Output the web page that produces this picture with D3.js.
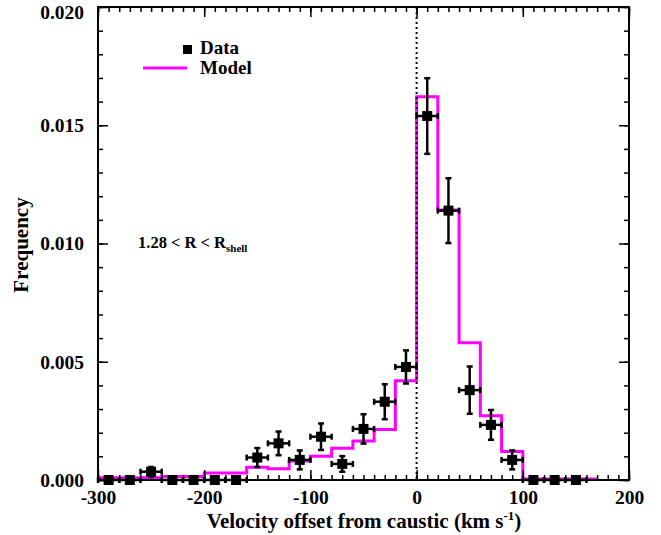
<!DOCTYPE html>
<html><head><meta charset="utf-8">
<script src="https://cdn.jsdelivr.net/npm/d3@7"></script>
<style>body{margin:0;background:#fff}svg{display:block}text{font-family:"Liberation Serif","Times New Roman",serif;font-weight:bold;fill:#000}</style>
</head><body>
<script>
// Model histogram (step): bin edges and values
const modelEdges = [-300,-280,-260,-240,-220,-200,-180,-160,-140,-120,-100,-80,-60,-40,-20,0,20,40,60,80,100,120,140,160,170];
const modelValues = [0.0001,0.0001,0.0001,0.00015,0.00015,0.0003,0.0003,0.00054,0.00048,0.0008,0.001,0.00134,0.00165,0.00214,0.0042,0.0162,0.01142,0.0058,0.00272,0.00121,0.00004,0.00004,0.00004,0.00004];
// Data points
const dataX = [-290,-270,-250,-230,-210,-190,-170,-150,-130,-110,-90,-70,-50,-30,-10,10,30,50,70,90,110,130,150];
const dataY = [0,0,0.00035,0,0,0,0,0.00095,0.00155,0.00085,0.00183,0.00068,0.00216,0.00331,0.00478,0.01539,0.01139,0.0038,0.00233,0.00085,0,0,0];
const dataErr = [0.00005,0.00005,0.0002,0.00005,0.00005,0.00005,0.00005,0.0004,0.0005,0.0004,0.00056,0.00033,0.00062,0.00074,0.0007,0.0016,0.00137,0.001,0.00063,0.0004,0.00005,0.00005,0.00005];
const binHalf = 10;
const xTicks = [-300,-200,-100,0,100,200];
const yTicks = [0,0.005,0.010,0.015,0.020];

const W=661,H=535;
const m={l:98,r:629,t:7,b:480};
const svg=d3.select("body").append("svg").attr("width",W).attr("height",H);
const x=d3.scaleLinear().domain([-300,200]).range([m.l,m.r]);
const y=d3.scaleLinear().domain([0,0.02]).range([m.b,m.t]);

// model step line
const stepPts=[];
modelValues.forEach((v,i)=>{stepPts.push([modelEdges[i],v]);stepPts.push([modelEdges[i+1],v]);});
svg.append("path").datum(stepPts)
  .attr("d",d3.line().x(d=>x(d[0])).y(d=>y(d[1])))
  .attr("fill","none").attr("stroke","#ff00ff").attr("stroke-width",3);

// dotted zero line
svg.append("line").attr("x1",x(0)).attr("x2",x(0)).attr("y1",m.t).attr("y2",m.b)
  .attr("stroke","#000").attr("stroke-width",2).attr("stroke-dasharray","2,3");

// data points
const g=svg.append("g");
dataX.forEach((dx,i)=>{
  const cx=x(dx), cy=y(dataY[i]);
  const y1=y(dataY[i]+dataErr[i]), y2=y(Math.max(0,dataY[i]-dataErr[i]));
  const x1=x(dx-binHalf), x2=x(dx+binHalf);
  g.append("line").attr("x1",x1).attr("x2",x2).attr("y1",cy).attr("y2",cy).attr("stroke","#000").attr("stroke-width",2.5);
  g.append("line").attr("x1",cx).attr("x2",cx).attr("y1",y1).attr("y2",y2).attr("stroke","#000").attr("stroke-width",2.5);
  [y1,y2].forEach(yy=>g.append("line").attr("x1",cx-3).attr("x2",cx+3).attr("y1",yy).attr("y2",yy).attr("stroke","#000").attr("stroke-width",2.5));
  [x1,x2].forEach(xx=>g.append("line").attr("x1",xx).attr("x2",xx).attr("y1",cy-3).attr("y2",cy+3).attr("stroke","#000").attr("stroke-width",2.5));
  g.append("rect").attr("x",cx-5).attr("y",cy-5).attr("width",10).attr("height",10).attr("fill","#000");
});

// axes (ticks inward)
const xMinor=d3.range(-300,201,10), yMinor=d3.range(0,0.02001,0.001);
function addAxis(axis,tr){
  const a=svg.append("g").attr("transform",tr).call(axis);
  a.select(".domain").remove();
  a.selectAll("line").attr("stroke","#000").attr("stroke-width",1.5);
  return a;
}
addAxis(d3.axisBottom(x).tickValues(xMinor).tickSize(-5).tickFormat(""),`translate(0,${m.b})`);
addAxis(d3.axisTop(x).tickValues(xMinor).tickSize(-5).tickFormat(""),`translate(0,${m.t})`);
addAxis(d3.axisLeft(y).tickValues(yMinor).tickSize(-5).tickFormat(""),`translate(${m.l},0)`);
addAxis(d3.axisRight(y).tickValues(yMinor).tickSize(-5).tickFormat(""),`translate(${m.r},0)`);
const xb=addAxis(d3.axisBottom(x).tickValues(xTicks).tickSize(-10).tickPadding(11).tickFormat(d=>String(d)),`translate(0,${m.b})`);
addAxis(d3.axisTop(x).tickValues(xTicks).tickSize(-10).tickFormat(""),`translate(0,${m.t})`);
const yl=addAxis(d3.axisLeft(y).tickValues(yTicks).tickSize(-10).tickPadding(14).tickFormat(d3.format(".3f")),`translate(${m.l},0)`);
addAxis(d3.axisRight(y).tickValues(yTicks).tickSize(-10).tickFormat(""),`translate(${m.r},0)`);
svg.selectAll(".tick text").attr("font-size",19.5).attr("font-family","Liberation Serif").attr("font-weight","bold").attr("fill","#000");
xb.selectAll(".tick text").attr("dy","0.68em");
yl.selectAll(".tick text").filter(d=>d===0.02).attr("dy","0.6em");

// frame
svg.append("rect").attr("x",m.l).attr("y",m.t).attr("width",m.r-m.l).attr("height",m.b-m.t)
  .attr("fill","none").attr("stroke","#000").attr("stroke-width",2);

// axis titles
const xt=svg.append("text").attr("x",364).attr("y",528).attr("text-anchor","middle").attr("font-size",21);
xt.append("tspan").text("Velocity offset from caustic (km s");
xt.append("tspan").attr("dy",-8).attr("font-size",13).text("-1");
xt.append("tspan").attr("dy",8).text(")");
svg.append("text").attr("transform","translate(28,245) rotate(-90)").attr("text-anchor","middle").attr("font-size",21).text("Frequency");

// legend
svg.append("rect").attr("x",183).attr("y",45).attr("width",9).attr("height",9).attr("fill","#000");
svg.append("text").attr("x",200).attr("y",54).attr("font-size",19).text("Data");
svg.append("line").attr("x1",143).attr("x2",187).attr("y1",68).attr("y2",68).attr("stroke","#ff00ff").attr("stroke-width",3);
svg.append("text").attr("x",200).attr("y",74).attr("font-size",19).text("Model");

// annotation
const an=svg.append("text").attr("x",138).attr("y",248).attr("font-size",16.5);
an.append("tspan").text("1.28 < R < R");
an.append("tspan").attr("dy",4).attr("font-size",11).text("shell");
</script>
</body></html>
